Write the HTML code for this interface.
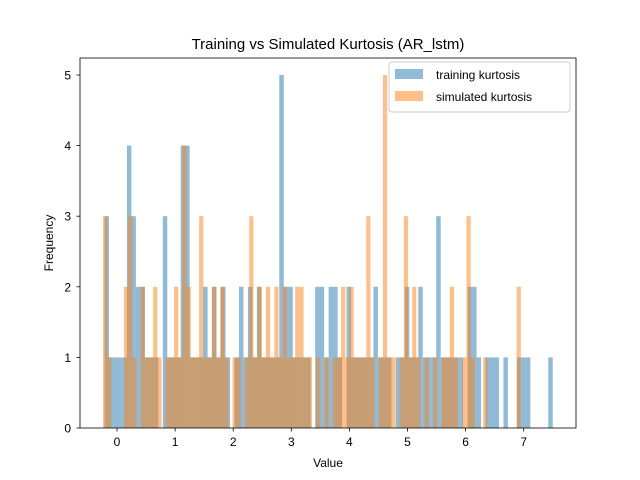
<!DOCTYPE html>
<html><head><meta charset="utf-8"><style>
body{margin:0;background:#fff}
svg{display:block;font-family:"Liberation Sans","DejaVu Sans",sans-serif}
</style></head><body>
<svg id="c" width="640" height="480">
<rect width="640" height="480" fill="#fff"/>
<text x="328" y="49" font-size="15" text-anchor="middle">Training vs Simulated Kurtosis (AR_lstm)</text>
<g id="bars"></g>
<rect x="80" y="58" width="496" height="370" fill="none" stroke="#000" stroke-width="0.8"/>
<g id="ticks" font-size="12"></g>
<text x="328" y="467" font-size="12" text-anchor="middle">Value</text>
<text transform="translate(53,243) rotate(-90)" font-size="12" text-anchor="middle">Frequency</text>
<g>
<rect x="389" y="62" width="181" height="50" rx="3" fill="#fff" fill-opacity="0.8" stroke="#ccc"/>
<rect x="395" y="69" width="28" height="10" fill="#1f77b4" fill-opacity="0.5"/>
<text x="436" y="79" font-size="12">training kurtosis</text>
<rect x="395" y="91" width="28" height="10" fill="#ff7f0e" fill-opacity="0.5"/>
<text x="436" y="101" font-size="12">simulated kurtosis</text>
</g>
</svg>
<script>
const trainMin = -0.215, trainMax = 7.5;
const trainCounts = [3,1,1,1,1,4,3,2,2,1,1,1,0,3,1,1,1,4,4,1,1,1,2,1,2,1,2,1,0,1,2,1,2,1,2,1,1,1,1,5,2,2,1,1,1,1,0,2,2,1,2,2,1,0,2,1,1,1,1,1,2,1,1,1,0,1,1,2,1,1,2,1,1,1,3,1,1,1,1,1,0,2,2,1,0,1,1,1,0,1,0,0,1,1,1,0,0,0,0,1];
const simMin = -0.24, simMax = 6.95;
const simCounts = [3,1,0,0,0,2,3,1,0,2,1,1,2,1,0,1,1,2,1,4,2,1,1,3,1,1,2,1,2,1,0,1,1,0,1,3,1,2,1,2,1,2,1,2,1,1,2,2,1,1,0,1,0,1,0,1,1,2,1,2,1,1,1,3,1,0,1,5,1,1,0,1,3,1,2,1,0,1,0,1,0,1,1,2,1,0,1,3,1,0,0,1,0,0,0,0,0,0,0,2];
const xTicks = [0,1,2,3,4,5,6,7];
const yTicks = [0,1,2,3,4,5];
const X = v => 117 + v * 58.1;
const Y = v => 428 - v * 70.6;
const NS = "http://www.w3.org/2000/svg";
const bars = document.getElementById('bars');
function draw(counts, lo, hi, color, name){
  const w = (hi - lo) / counts.length;
  counts.forEach((c, i) => {
    if (!c) return;
    const r = document.createElementNS(NS, 'rect');
    const x0 = X(lo + i * w), x1 = X(lo + (i + 1) * w);
    r.setAttribute('x', x0); r.setAttribute('width', x1 - x0);
    r.setAttribute('y', Y(c)); r.setAttribute('height', Y(0) - Y(c));
    r.setAttribute('fill', color); r.setAttribute('fill-opacity', 0.5);
    
    
    bars.appendChild(r);
  });
}
draw(trainCounts, trainMin, trainMax, '#1f77b4', 'training');
draw(simCounts, simMin, simMax, '#ff7f0e', 'simulated');
const tg = document.getElementById('ticks');
xTicks.forEach(t => {
  const l = document.createElementNS(NS, 'line');
  l.setAttribute('x1', X(t)); l.setAttribute('x2', X(t)); l.setAttribute('y1', 428); l.setAttribute('y2', 431.5);
  l.setAttribute('stroke', '#000'); l.setAttribute('stroke-width', 0.8);
  
  
  tg.appendChild(l);
  const s = document.createElementNS(NS, 'text');
  s.setAttribute('x', X(t)); s.setAttribute('y', 446); s.setAttribute('text-anchor', 'middle');
  s.textContent = t;
  
  
  tg.appendChild(s);
});
yTicks.forEach(t => {
  const l = document.createElementNS(NS, 'line');
  l.setAttribute('x1', 76.5); l.setAttribute('x2', 80); l.setAttribute('y1', Y(t)); l.setAttribute('y2', Y(t));
  l.setAttribute('stroke', '#000'); l.setAttribute('stroke-width', 0.8);
  
  
  tg.appendChild(l);
  const s = document.createElementNS(NS, 'text');
  s.setAttribute('x', 71); s.setAttribute('y', Y(t) + 4.5); s.setAttribute('text-anchor', 'end');
  s.textContent = t;
  
  
  tg.appendChild(s);
});
</script>
</body></html>
